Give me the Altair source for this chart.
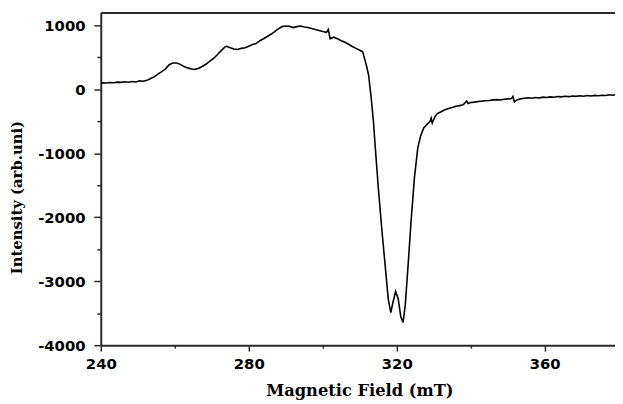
import altair as alt
import pandas as pd

field = [240.0, 240.5, 241.5, 242.5, 243.5, 244.5, 245.5, 246.5, 247.5, 248.5,
         249.5, 250.5, 251.5, 252.5, 253.5, 254.5, 255.5, 256.5, 257.5, 258.5,
         259.5, 260.5, 261.5, 262.5, 263.5, 264.5, 265.5, 266.5, 267.5, 268.5,
         269.5, 270.5, 271.5, 272.5, 273.5, 274.0, 275.0, 276.0, 277.0, 278.0,
         279.0, 280.0, 281.0, 282.0, 283.0, 284.0, 285.0, 286.0, 287.0, 288.0,
         289.0, 290.0, 291.0, 292.0, 293.0, 294.0, 295.0, 296.0, 297.0, 298.0,
         299.0, 300.0, 301.0, 301.5, 302.0, 303.0, 304.0, 305.0, 306.0, 307.0,
         308.0, 309.0, 310.0, 310.8, 311.3, 311.8, 312.4, 313.1, 313.7, 314.1,
         315.0, 315.9, 316.8, 317.7, 318.4, 319.0, 319.7, 320.4, 321.1, 321.7,
         322.3, 323.0, 323.9, 324.8, 325.7, 326.5, 327.3, 328.3, 329.0, 329.3,
         329.6, 330.3, 331.0, 332.0, 333.0, 334.0, 335.0, 336.0, 337.0, 338.0,
         338.9, 339.3, 340.0, 341.0, 342.0, 343.0, 344.0, 345.0, 346.0, 347.0,
         348.0, 349.0, 350.0, 351.0, 351.4, 351.8, 352.5, 353.5, 354.5, 355.5,
         356.5, 357.5, 358.5, 359.5, 360.5, 361.5, 362.5, 363.5, 364.5, 365.5,
         366.5, 367.5, 368.5, 369.5, 370.5, 371.5, 372.5, 373.5, 374.5, 375.5,
         376.5, 377.5, 378.5, 379.0]

intensity = [85, 100, 98, 105, 102, 112, 108, 118, 110, 122,
             115, 132, 125, 140, 170, 195, 240, 275, 320, 385,
             410, 412, 390, 355, 335, 318, 312, 330, 360, 395,
             440, 485, 540, 600, 660, 672, 648, 630, 622, 640,
             650, 672, 700, 715, 760, 790, 825, 860, 900, 945,
             980, 990, 985, 965, 980, 990, 975, 965, 950, 935,
             920, 905, 890, 935, 790, 815, 790, 760, 735, 705,
             670, 640, 610, 585, 480, 375, 220, -140, -500, -830,
             -1528, -2145, -2709, -3275, -3491, -3326, -3162, -3275, -3557, -3645,
             -3378, -2812, -2041, -1374, -911, -720, -603, -540, -500, -450,
             -530, -430, -380, -350, -320, -300, -285, -265, -255, -240,
             -185, -222, -205, -200, -190, -185, -178, -175, -165, -162,
             -168, -155, -150, -145, -110, -198, -165, -150, -140, -132,
             -140, -128, -135, -122, -128, -118, -125, -112, -118, -108,
             -115, -104, -110, -100, -108, -98, -104, -95, -100, -92,
             -97, -86, -92, -82]

x_major = [240, 280, 320, 360]
x_minor = [260, 300, 340]
y_major = [1000, 0, -1000, -2000, -3000, -4000]
y_minor = [500, -500, -1500, -2500, -3500]

df = pd.DataFrame({"field": field, "intensity": intensity})

AX = "#2a2a2a"
xs = alt.Scale(domain=[240, 379], nice=False, zero=False)
ys = alt.Scale(domain=[-4000, 1200], nice=False, zero=False)

label_font = "DejaVu Sans"
title_font = "DejaVu Serif"
plain = "'' + datum.value"

main = alt.Chart(df).mark_line(color="black", strokeWidth=1.6, clip=True).encode(
    x=alt.X("field:Q", scale=xs, axis=alt.Axis(
        orient="bottom", values=x_major, labelExpr=plain, grid=False,
        domainColor=AX, domainWidth=2, tickColor=AX, tickWidth=1.5, tickSize=6,
        labelFont=label_font, labelFontSize=15, labelFontWeight="bold", labelColor="black",
        labelPadding=6, labelFlush=False,
        title="Magnetic Field (mT)", titleFont=title_font, titleFontSize=16.5,
        titleFontWeight="bold", titleColor="black", titleX=262, titleY=46,
        titleBaseline="middle", titleAlign="center")),
    y=alt.Y("intensity:Q", scale=ys, axis=alt.Axis(
        orient="left", values=y_major, labelExpr=plain, grid=False,
        domainColor=AX, domainWidth=2, tickColor=AX, tickWidth=1.5, tickSize=7,
        labelFont=label_font, labelFontSize=15, labelFontWeight="bold", labelColor="black",
        labelPadding=9, labelFlush=False,
        title="Intensity (arb.uni)", titleFont=title_font, titleFontSize=15,
        titleFontWeight="bold", titleColor="black", titleX=-85, titleY=187,
        titleAngle=-90, titleBaseline="middle", titleAlign="center")),
)

minor = alt.Chart(df).mark_line(strokeOpacity=0).encode(
    x=alt.X("field:Q", scale=xs, axis=alt.Axis(
        orient="bottom", values=x_minor, labels=False, domain=False, grid=False,
        tickColor=AX, tickWidth=1.5, tickSize=3, title=None)),
    y=alt.Y("intensity:Q", scale=ys, axis=alt.Axis(
        orient="left", values=y_minor, labels=False, domain=False, grid=False,
        tickColor=AX, tickWidth=1.5, tickSize=4, title=None)),
)

top = alt.Chart(df).mark_line(strokeOpacity=0).encode(
    x=alt.X("field:Q", scale=xs, axis=alt.Axis(
        orient="top", labels=False, ticks=False, grid=False,
        domainColor=AX, domainWidth=2, title=None)),
    y=alt.Y("intensity:Q", scale=ys, axis=None),
)

chart = alt.layer(main, minor, top).resolve_axis(
    x="independent", y="independent"
).properties(
    width=521, height=337,
    padding={"left": 94, "top": 2, "right": 0, "bottom": 56},
    autosize=alt.AutoSizeParams(type="none"),
).configure_view(stroke=None).configure(background="white")

chart.save("out.html", embed_options={"renderer": "svg", "actions": False})
